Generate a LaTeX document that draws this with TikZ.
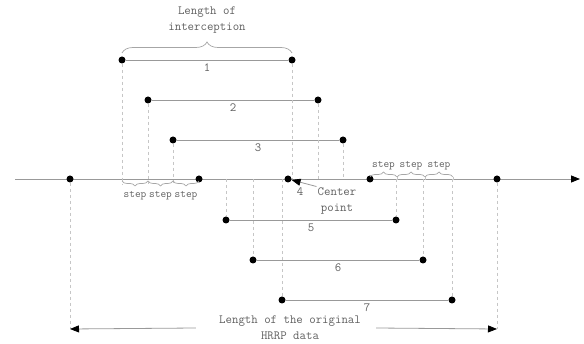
\documentclass[tikz,border=0pt]{standalone}
\usepackage{fontspec}
\usetikzlibrary{arrows.meta,decorations.pathreplacing}
\tikzset{
  dot/.style={circle,fill=black,inner sep=0pt,minimum size=7pt},
  seg/.style={draw=gray!80,line width=0.8pt},
  guide/.style={draw=gray!45,dashed,line width=0.7pt},
  lbl/.style={text=gray!75!black,font=\ttfamily\fontsize{12.5}{16}\selectfont,align=center,inner sep=1pt},
  steplbl/.style={lbl,font=\ttfamily\fontsize{11}{13}\selectfont},
  brc/.style={draw=gray!70,line width=0.7pt,decorate,decoration={brace,amplitude=#1}},
  brc/.default=5,
  tip/.style={-{Triangle[color=black,length=9pt,width=7pt]}}
}
\begin{document}
\begin{tikzpicture}[x=1pt,y=-1pt]
    \useasboundingbox (0,0) rectangle (584,344);
    \coordinate (a0) at (15,179);
    \coordinate (a1) at (580,179);
    \draw[seg,tip] (a0) -- (a1);
    \node[dot] (d0) at (70,179) {};
    \node[dot] (d1) at (497,179) {};
    \node[dot] (l4) at (199,179) {};
    \node[dot] (r4) at (370,179) {};
    \node[dot] (c) at (288,179) {};
    \node[lbl] (n4) at (300,192) {4};

    \foreach \i/\xl/\y in {1/122/60, 2/148/100, 3/173/140, 5/226/220, 6/253/260, 7/282/300} {
      \node[dot] (l\i) at (\xl,\y) {};
      \node[dot] (r\i) at (\xl+170,\y) {};
      \draw[seg] (l\i) -- node[lbl,below=2pt] {\i} (r\i);
    }
    \foreach \i in {1,2,3} {
      \draw[guide] (l\i) -- ([yshift=-5pt]l\i |- a0);
      \draw[guide] (r\i) -- (r\i |- a0);
    }
    \foreach \i in {5,6,7} {
      \draw[guide] (l\i |- a0) -- (l\i);
      \draw[guide] (r\i |- a0) -- (r\i);
    }

    \draw[brc=11] (122,53) -- (292,53);
    \node[lbl] (li) at (207,20) {Length of\\interception};
    \foreach \a/\b in {122/148, 148/173, 173/199}
      \draw[brc,decoration={mirror}] (\a,181) -- (\b,181) node[steplbl,midway,below=9pt] {step};
    \foreach \a/\b in {370/397, 397/425, 425/453} {
      \draw[brc] (\a,177) -- (\b,177) node[steplbl,midway,above=6pt] {step};
      \draw[guide] (\b,177) -- (\b,183);
    }

    \node[lbl] (cp) at (337,201) {Center\\point};
    \draw[seg,tip] (cp.north west) -- (c);

    \coordinate (b0) at (70,329);
    \coordinate (b1) at (497,329);
    \draw[guide] (d0) -- (b0);
    \draw[guide] (d1) -- (b1);
    \node[lbl] (hl) at (290,328) {Length of the original\\HRRP data};
    \draw[seg,tip] ([xshift=-22pt]hl.west) -- (b0);
    \draw[seg,tip] ([xshift=14pt]hl.east) -- (b1);
\end{tikzpicture}
\end{document}
